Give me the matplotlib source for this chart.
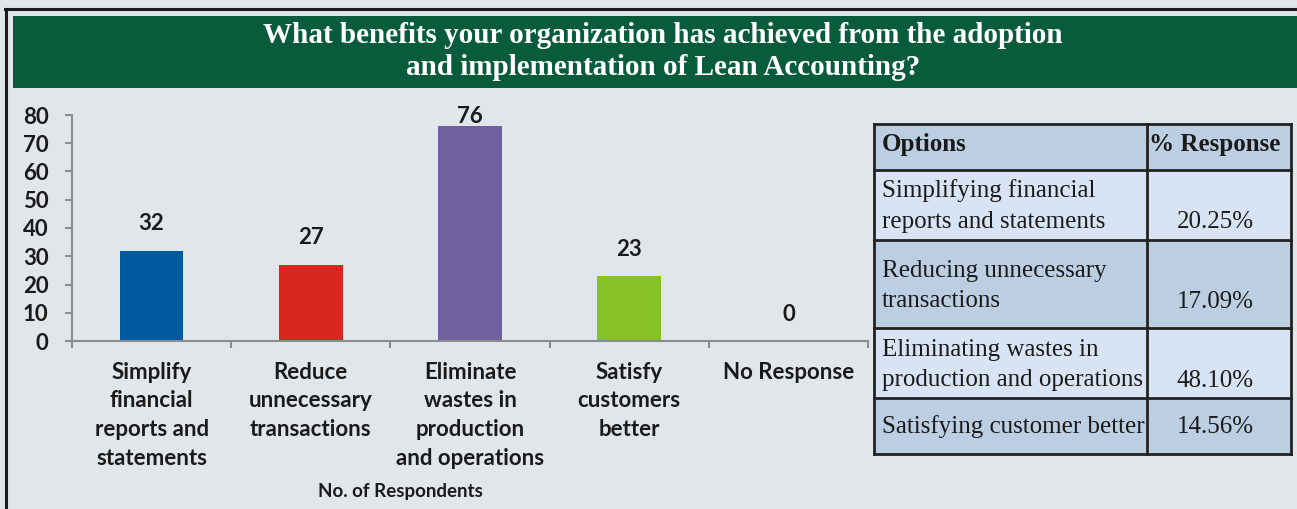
import matplotlib.pyplot as plt
from matplotlib.patches import Rectangle
from matplotlib.lines import Line2D

# chart data
categories = ['Simplify\nfinancial\nreports and\nstatements',
              'Reduce\nunnecessary\ntransactions',
              'Eliminate\nwastes in\nproduction\nand operations',
              'Satisfy\ncustomers\nbetter',
              'No Response']
respondents = [32, 27, 76, 23, 0]
bar_colors = ['#005ba1', '#d9261e', '#6f60a0', '#86c225', '#888888']
y_ticks = [0, 10, 20, 30, 40, 50, 60, 70, 80]

# table data
table_header = ['Options', '% Response']
table_options = ['Simplifying financial\nreports and statements',
                 'Reducing unnecessary\ntransactions',
                 'Eliminating wastes in\nproduction and operations',
                 'Satisfying customer better']
table_pct = ['20.25%', '17.09%', '48.10%', '14.56%']

title = ('What benefits your organization has achieved from the adoption\n'
         'and implementation of Lean Accounting?')

W, H = 1297, 509
bg = '#e1e6eb'
ink = '#1a1a1a'
fig = plt.figure(figsize=(W / 100, H / 100), dpi=100, facecolor=bg)


def fx(px):
    return px / W


def fy(py):
    # pixel y from top -> figure fraction
    return 1 - py / H


# outer frame and title banner
fig.add_artist(Line2D([fx(5.5), fx(5.5)], [fy(9), fy(509)], color=ink, lw=2.2))
fig.add_artist(Line2D([fx(5), fx(1297)], [fy(9), fy(9)], color=ink, lw=2.2))
fig.add_artist(Rectangle((fx(13), fy(88)), fx(1297 - 13), (88 - 16) / H,
                         transform=fig.transFigure, facecolor='#085c3c', edgecolor='none'))
fig.text(fx(663), fy(51.5), title, ha='center', va='center', color='white',
         fontsize=21, fontweight='bold', family='Liberation Serif', linespacing=1.24)

# bar chart
ax = fig.add_axes([fx(72), fy(341), fx(868 - 72), (341 - 115) / H])
ax.set_facecolor(bg)
x = range(len(categories))
ax.bar(x, respondents, width=0.4, color=bar_colors)
ax.set_xlim(-0.5, len(categories) - 0.5)
ax.set_ylim(0, 80)
ax.set_yticks(y_ticks, labels=[str(t) for t in y_ticks], fontweight='bold',
              fontsize=16, family='Lato', color=ink)
ax.set_xticks([i - 0.5 for i in range(len(categories) + 1)])
ax.set_xticklabels([])
ax.tick_params(axis='x', direction='out', length=5, color='#8c8c8c', width=1.5)
ax.tick_params(axis='y', direction='out', length=5, color='#8c8c8c', width=1.5, pad=12)
for s in ['top', 'right']:
    ax.spines[s].set_visible(False)
for s in ['left', 'bottom']:
    ax.spines[s].set_color('#8c8c8c')
    ax.spines[s].set_linewidth(1.5)

for i, v in enumerate(respondents):
    ax.text(i, min(v + 9.5, 79.5), str(v), ha='center', va='center', fontsize=16,
            fontweight='bold', family='Lato', color=ink)
    ax.text(i, -7.3, categories[i], ha='center', va='top', fontsize=16,
            fontweight='bold', family='Lato', color=ink, linespacing=1.45,
            clip_on=False)
fig.text(fx(400), fy(492), 'No. of Respondents', ha='center', va='center', fontsize=13.5,
         fontweight='bold', family='Lato', color=ink)

# table
col_x = [874, 1147, 1291]
row_y = [124, 170, 240, 328, 398, 454]
row_fill = ['#bccfe2', '#d8e4f3', '#bccfe2', '#d8e4f3', '#bccfe2']
for r in range(len(row_y) - 1):
    fig.add_artist(Rectangle((fx(col_x[0]), fy(row_y[r + 1])), fx(col_x[2] - col_x[0]),
                             (row_y[r + 1] - row_y[r]) / H, transform=fig.transFigure,
                             facecolor=row_fill[r], edgecolor='none'))
for yy in row_y:
    fig.add_artist(Line2D([fx(col_x[0]), fx(col_x[2])], [fy(yy), fy(yy)], color='#222222', lw=2))
for xx in col_x:
    fig.add_artist(Line2D([fx(xx), fx(xx)], [fy(row_y[0]), fy(row_y[-1])], color='#222222', lw=2))

serif = 'Liberation Serif'
fig.text(fx(882), fy(144), table_header[0], ha='left', va='center', fontsize=18,
         fontweight='bold', family=serif, color=ink)
fig.text(fx(1149), fy(144), table_header[1], ha='left', va='center', fontsize=18,
         fontweight='bold', family=serif, color=ink)
text_mid = [206, 286, 365, 427]
pct_y = [222, 302, 381, 427]
for i in range(len(table_options)):
    fig.text(fx(882), fy(text_mid[i]), table_options[i], ha='left', va='center',
             fontsize=18, family=serif, linespacing=1.52, color=ink)
    fig.text(fx(1254), fy(pct_y[i]), table_pct[i], ha='right', va='center',
             fontsize=18, family=serif, color=ink)

fig.savefig('out.png', dpi=100, facecolor=bg)
